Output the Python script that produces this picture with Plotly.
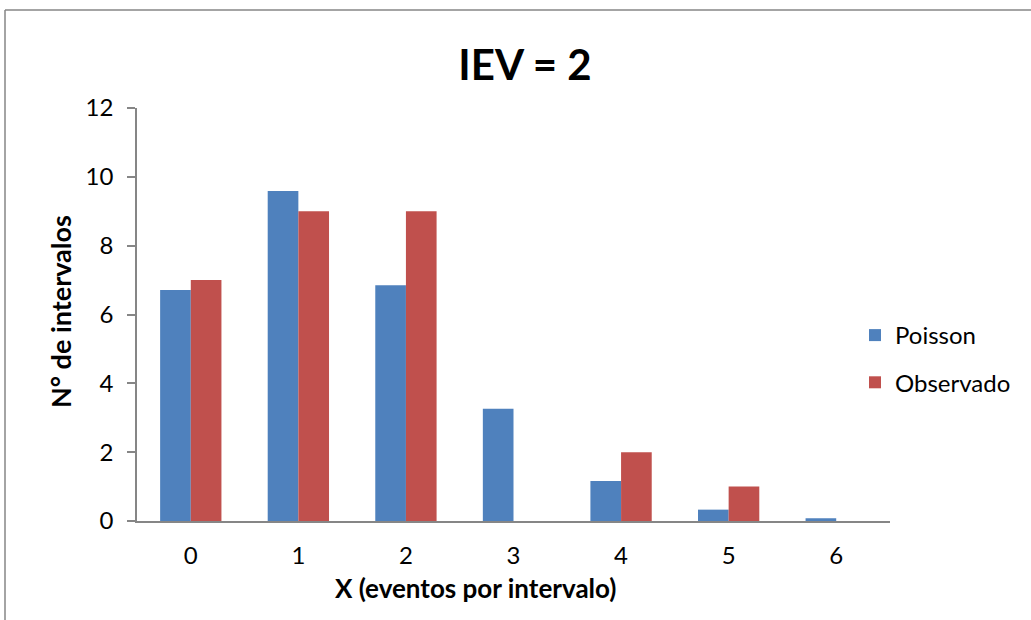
import plotly.graph_objects as go

# Number of events per interval
categorias = ["0", "1", "2", "3", "4", "5", "6"]
# Expected counts from the Poisson model
poisson = [6.71, 9.59, 6.85, 3.26, 1.16, 0.33, 0.08]
# Observed counts
observado = [7, 9, 9, 0, 2, 1, 0]

FONT = "Lato, Carlito, Calibri, sans-serif"
AXIS_GRAY = "#868686"

# Plot-area geometry in pixels, used to place paper-referenced items
L, R, T, B = 137, 890, 108, 521
PW, PH = R - L, B - T


def px_x(x):
    return (x - L) / PW


def px_y(y):
    return 1 - (y - T) / PH


fig = go.Figure()
fig.add_trace(go.Bar(name="Poisson", x=categorias, y=poisson, legendgroup="p",
                     marker=dict(color="#4F81BD", line=dict(width=0))))
fig.add_trace(go.Bar(name="Observado", x=categorias, y=observado, legendgroup="o",
                     marker=dict(color="#C0504D", line=dict(width=0))))

fig.update_layout(
    width=1031, height=620,
    margin=dict(l=L, r=1031 - R, t=T, b=620 - B, autoexpand=False),
    paper_bgcolor="white", plot_bgcolor="white",
    barmode="group", bargap=0.43, bargroupgap=0,
    font=dict(family=FONT, size=24, color="black"),
    title=dict(text="<b>IEV = 2</b>", x=525 / 1031, xanchor="center",
               y=1 - 65 / 620, yanchor="middle",
               font=dict(size=42, family=FONT)),
    xaxis=dict(
        showline=True, linecolor=AXIS_GRAY, linewidth=1.5,
        ticks="", showgrid=False, zeroline=False,
        ticklabelstandoff=12,
        tickfont=dict(size=24),
    ),
    yaxis=dict(
        range=[0, 12], dtick=2, tickformat="d",
        showline=True, linecolor=AXIS_GRAY, linewidth=1.5,
        ticks="outside", ticklen=8, tickcolor=AXIS_GRAY, tickwidth=1.5,
        showgrid=False, zeroline=False, ticklabelstandoff=9,
        tickfont=dict(size=24),
    ),
    legend=dict(x=px_x(855), xanchor="left", y=px_y(359), yanchor="middle",
                font=dict(size=24), tracegroupgap=13,
                itemsizing="constant", bgcolor="rgba(0,0,0,0)"),
    showlegend=True,
)

# Axis titles
fig.add_annotation(text="<b>X (eventos por intervalo)</b>", xref="paper", yref="paper",
                   x=px_x(475), y=px_y(588), xanchor="center", yanchor="middle",
                   showarrow=False, font=dict(size=26))
fig.add_annotation(text="<b>N° de intervalos</b>", xref="paper", yref="paper",
                   x=px_x(60), y=px_y(312), xanchor="center", yanchor="middle",
                   textangle=-90, showarrow=False, font=dict(size=27))

# Outer chart-area border (top and left edges)
fig.add_shape(type="line", xref="paper", yref="paper",
              x0=px_x(5), x1=px_x(1040), y0=px_y(10), y1=px_y(10),
              line=dict(color=AXIS_GRAY, width=1.5))
fig.add_shape(type="line", xref="paper", yref="paper",
              x0=px_x(5), x1=px_x(5), y0=px_y(10), y1=px_y(630),
              line=dict(color=AXIS_GRAY, width=1.5))

fig.write_html("out.html")
